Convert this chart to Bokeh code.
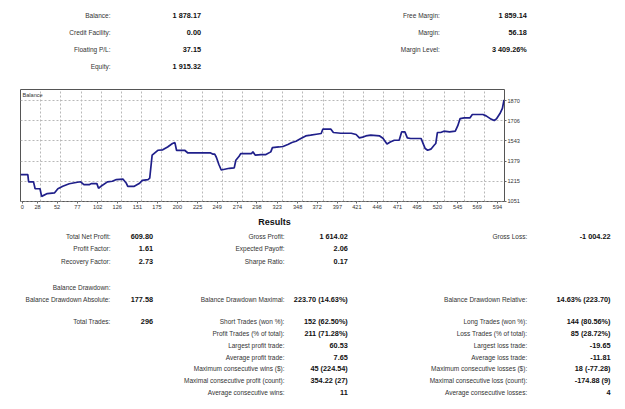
from bokeh.plotting import figure
from bokeh.layouts import column
from bokeh.models import Range1d, FixedTicker, Label
from bokeh.embed import file_html
from bokeh.resources import INLINE
from bokeh.core.properties import value
import numpy as np

# ---- account summary -------------------------------------------------------
acct_left_labels = ["Balance:", "Credit Facility:", "Floating P/L:", "Equity:"]
acct_left_values = ["1 878.17", "0.00", "37.15", "1 915.32"]
acct_right_labels = ["Free Margin:", "Margin:", "Margin Level:"]
acct_right_values = ["1 859.14", "56.18", "3 409.26%"]

# ---- balance curve (deal number, balance) ----------------------------------
deals = [7, 16, 17, 23, 25, 31, 33, 40, 49, 53,
         59, 67, 77, 81, 85, 92, 94, 101, 103, 106,
         114, 120, 125, 133, 137, 139, 147, 153, 157, 164,
         166, 169, 176, 182, 188, 194, 197, 199, 209, 213,
         241, 244, 246, 248, 251, 254, 264, 270, 272, 276,
         278, 291, 293, 296, 303, 309, 315, 317, 325, 330,
         336, 341, 346, 352, 358, 364, 371, 377, 379, 389,
         392, 401, 414, 420, 424, 428, 432, 438, 449, 453,
         458, 462, 467, 473, 476, 480, 483, 487, 500, 502,
         505, 508, 512, 516, 518, 520, 524, 528, 535, 542,
         545, 548, 553, 560, 563, 576, 580, 586, 590, 593,
         597, 600, 602]
balance = [1268.37, 1268.37, 1209, 1209, 1153, 1153, 1090.79, 1114, 1120, 1153,
           1173, 1194, 1206, 1210, 1187, 1187, 1195, 1195, 1157, 1173,
           1209, 1214, 1228, 1232, 1200, 1173, 1173, 1195, 1222, 1228,
           1239, 1427, 1467, 1471, 1494, 1522, 1530, 1467, 1467, 1445,
           1445, 1435, 1435, 1410, 1353, 1306, 1320, 1323, 1386, 1418,
           1440, 1439, 1454, 1427, 1432, 1432, 1454, 1489, 1494, 1498,
           1514, 1530, 1541, 1563, 1584, 1590, 1598, 1604, 1639, 1639,
           1612, 1606, 1606, 1596, 1568, 1574, 1584, 1590, 1584, 1565,
           1519, 1535, 1549, 1549, 1617, 1617, 1568, 1563, 1563, 1530,
           1481, 1467, 1476, 1508, 1522, 1612, 1612, 1623, 1617, 1623,
           1666, 1726, 1731, 1731, 1759, 1759, 1748, 1721, 1710, 1726,
           1767, 1808, 1878.17]

x_tick_labels = [0, 28, 52, 77, 102, 126, 151, 175, 200, 225, 249, 274, 298,
                 323, 348, 372, 397, 421, 446, 471, 495, 520, 545, 569, 594]
y_ticks = [1051, 1215, 1379, 1543, 1706, 1870]

# ---- results table ---------------------------------------------------------
col1_labels = ["Total Net Profit:", "Profit Factor:", "Recovery Factor:",
               "Balance Drawdown:", "Balance Drawdown Absolute:", "Total Trades:"]
col1_values = ["609.80", "1.61", "2.73", "", "177.58", "296"]
col1_rows = [1, 2, 3, 4, 5, 6]

col2_labels = ["Gross Profit:", "Expected Payoff:", "Sharpe Ratio:",
               "Balance Drawdown Maximal:", "Short Trades (won %):",
               "Profit Trades (% of total):", "Largest profit trade:",
               "Average profit trade:", "Maximum consecutive wins ($):",
               "Maximal consecutive profit (count):", "Average consecutive wins:"]
col2_values = ["1 614.02", "2.06", "0.17", "223.70 (14.63%)", "152 (62.50%)",
               "211 (71.28%)", "60.53", "7.65", "45 (224.54)", "354.22 (27)", "11"]
col2_rows = [1, 2, 3, 5, 6, 7, 8, 9, 10, 11, 12]

col3_labels = ["Gross Loss:", "Balance Drawdown Relative:", "Long Trades (won %):",
               "Loss Trades (% of total):", "Largest loss trade:",
               "Average loss trade:", "Maximum consecutive losses ($):",
               "Maximal consecutive loss (count):", "Average consecutive losses:"]
col3_values = ["-1 004.22", "14.63% (223.70)", "144 (80.56%)", "85 (28.72%)",
               "-19.65", "-11.81", "18 (-77.28)", "-174.88 (9)", "4"]
col3_rows = [1, 5, 6, 7, 8, 9, 10, 11, 12]

# ---- styling ---------------------------------------------------------------
FONT = "Liberation Sans"
LABEL_COLOR = "#333333"
VALUE_COLOR = "#111111"
LABEL_SIZE = "6.5px"
VALUE_SIZE = "7.3px"
W = 625


def text_panel(height):
    # x and y are page pixels measured from the panel's top-left corner
    p = figure(width=W, height=height, x_range=Range1d(0, W),
               y_range=Range1d(height, 0), output_backend="svg",
               toolbar_location=None, min_border=0, frame_align=False,
               x_axis_location=None, y_axis_location=None)
    p.grid.visible = False
    p.outline_line_color = None
    p.background_fill_color = "white"
    p.border_fill_color = "white"
    return p


def put_column(p, labels, values, ys, label_x, value_x):
    p.text(x=[label_x] * len(labels), y=ys, text=labels, text_align="right",
           text_baseline="middle", text_font=value(FONT), text_font_size=LABEL_SIZE,
           text_color=LABEL_COLOR)
    p.text(x=[value_x] * len(values), y=ys, text=values, text_align="right",
           text_baseline="middle", text_font=value(FONT), text_font_size=VALUE_SIZE,
           text_font_style="bold", text_color=VALUE_COLOR)


# ---- top panel: account state ---------------------------------------------
top = text_panel(80)
top_rows = [15, 32.3, 49.3, 65.7]
put_column(top, acct_left_labels, acct_left_values, top_rows, 110, 200.5)
put_column(top, acct_right_labels, acct_right_values, top_rows[:3], 439.3, 526.3)

# ---- balance chart ---------------------------------------------------------
X_START, X_END = 7, 602.6
Y_START, Y_END = 1049, 1963

chart = figure(width=W, height=135, x_range=Range1d(X_START, X_END),
               y_range=Range1d(Y_START, Y_END), output_backend="svg",
               toolbar_location=None, x_axis_location="below", y_axis_location="right",
               min_border_left=20, min_border_right=121, min_border_top=9,
               min_border_bottom=14, frame_align=False)
chart.background_fill_color = "white"
chart.border_fill_color = "white"
chart.outline_line_color = "#555555"
chart.outline_line_width = 1
chart.outline_line_alpha = 1

tick_pos = [max(v, X_START + 2.2) for v in x_tick_labels]
chart.xaxis.ticker = FixedTicker(ticks=tick_pos)
chart.xaxis.major_label_overrides = {t: str(v) for t, v in zip(tick_pos, x_tick_labels)}
chart.yaxis.ticker = FixedTicker(ticks=y_ticks)

for ax in (chart.xaxis[0], chart.yaxis[0]):
    ax.axis_line_color = None
    ax.major_tick_in = 0
    ax.major_tick_out = 2
    ax.major_tick_line_color = "#666666"
    ax.minor_tick_line_color = None
    ax.major_label_text_font = FONT
    ax.major_label_text_font_size = "5.6px"
    ax.major_label_text_color = "#333333"
    ax.major_label_standoff = 1

# grid divides the plot into 24 equal columns; rows follow the value ticks
chart.xgrid.ticker = FixedTicker(ticks=list(np.linspace(X_START, X_END, 25)[1:-1]))
chart.ygrid.ticker = FixedTicker(ticks=y_ticks)
for g in (chart.xgrid[0], chart.ygrid[0]):
    g.grid_line_color = "#b8b8b8"
    g.grid_line_dash = "2 2"
    g.grid_line_width = 1

chart.line(deals, balance, line_color="#1f1f8a", line_width=1.7)

chart.add_layout(Label(x=X_START, y=Y_END, x_offset=2, y_offset=-2, text="Balance",
                       text_baseline="top", text_font=FONT,
                       text_font_size="5.6px", text_color="#333333"))

# ---- bottom panel: results -------------------------------------------------
bottom = text_panel(194)
row_y = {1: 20.7, 2: 33.3, 3: 46, 4: 72, 5: 83.7, 6: 106, 7: 118,
         8: 129.7, 9: 141.7, 10: 153.3, 11: 165, 12: 177}
bottom.text(x=[274], y=[6.7], text=["Results"], text_align="center",
            text_baseline="middle", text_font=value(FONT), text_font_size="9px",
            text_font_style="bold", text_color=VALUE_COLOR)
put_column(bottom, col1_labels, col1_values, [row_y[r] for r in col1_rows], 110, 152.5)
put_column(bottom, col2_labels, col2_values, [row_y[r] for r in col2_rows], 284, 347.3)
put_column(bottom, col3_labels, col3_values, [row_y[r] for r in col3_rows], 526.7, 610)

page = column(top, chart, bottom, spacing=0)
open("out.html", "w").write(file_html(page, INLINE))
